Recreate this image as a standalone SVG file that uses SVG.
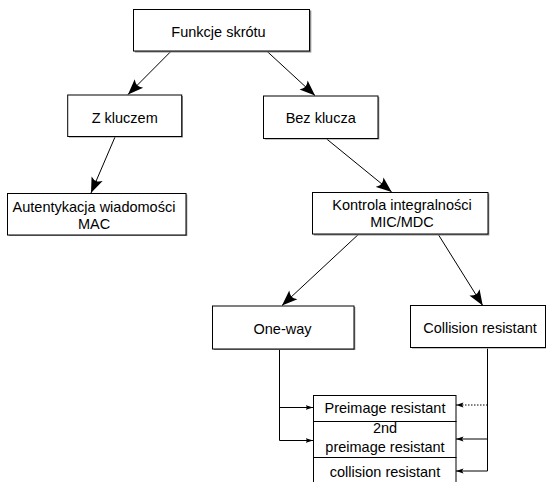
<svg xmlns="http://www.w3.org/2000/svg" width="546" height="482" viewBox="0 0 546 482">
<defs>
<style>
.box{fill:#fff;stroke:#000;stroke-width:1}
.sh{fill:#8a8a8a}
.t{font-family:"Liberation Sans",Arial,sans-serif;font-size:14.5px;fill:#000;text-anchor:middle}
.c{fill:none;stroke:#000;stroke-width:1}
.big{marker-end:url(#ab)}
.sm{marker-end:url(#as)}
</style>
<marker id="ab" markerUnits="userSpaceOnUse" markerWidth="17" markerHeight="13" refX="16" refY="6.5" orient="auto" viewBox="0 0 17 13">
<path d="M16,6.5 L0.5,0.5 Q3,4 3,6.5 Q3,9 0.5,12.5 Z" fill="#000"/>
</marker>
<marker id="as" markerUnits="userSpaceOnUse" markerWidth="8" markerHeight="6" refX="7.5" refY="3" orient="auto" viewBox="0 0 8 6">
<path d="M7.5,3 L0,0.5 L1.5,3 L0,5.5 Z" fill="#000"/>
</marker>
</defs>

<g id="connectors">
<line class="c big" x1="171.3" y1="51" x2="128" y2="94.5"/>
<line class="c big" x1="266.7" y1="51" x2="315" y2="95.5"/>
<line class="c big" x1="115" y1="137" x2="91" y2="193"/>
<line class="c big" x1="326.7" y1="139" x2="391.7" y2="192"/>
<line class="c big" x1="358.3" y1="234.5" x2="282" y2="305.5"/>
<line class="c big" x1="438.3" y1="234.5" x2="482.7" y2="305.5"/>
<path class="c" d="M279.5,349.5 V440.5"/>
<line class="c sm" x1="279.5" y1="407.5" x2="313" y2="407.5"/>
<line class="c sm" x1="279.5" y1="440.5" x2="313" y2="440.5"/>
<path class="c" d="M487.5,348.5 V471"/>
<line class="c sm" x1="487.5" y1="405" x2="456" y2="405" stroke-dasharray="1.5,1.5"/>
<line class="c sm" x1="487.5" y1="439" x2="456" y2="439"/>
<line class="c sm" x1="487.5" y1="471" x2="456" y2="471"/>
</g>

<g id="n-funkcje">
<rect class="sh" x="134.8" y="10.5" width="176.5" height="42"/>
<rect class="box" x="133.5" y="9.5" width="176" height="41.5"/>
<text class="t" x="218.5" y="36.5">Funkcje skrótu</text>
</g>

<g id="n-zkluczem">
<rect class="sh" x="69" y="96" width="114" height="41.5"/>
<rect class="box" x="67.7" y="95" width="114" height="41.5"/>
<text class="t" x="124.7" y="123">Z kluczem</text>
</g>

<g id="n-bezklucza">
<rect class="sh" x="264.8" y="97" width="114.5" height="42.5"/>
<rect class="box" x="263.5" y="96" width="114.5" height="42.5"/>
<text class="t" x="320.7" y="123.3">Bez klucza</text>
</g>

<g id="n-autentykacja">
<rect class="sh" x="8.8" y="194.5" width="178.5" height="41.5"/>
<rect class="box" x="7.5" y="193.5" width="178.5" height="41.5"/>
<text class="t" x="94" y="212">Autentykacja wiadomości</text>
<text class="t" x="94" y="229.3">MAC</text>
</g>

<g id="n-kontrola">
<rect class="sh" x="313.8" y="193.5" width="175.5" height="42"/>
<rect class="box" x="312.5" y="192.5" width="175.5" height="41.5"/>
<text class="t" x="402" y="210">Kontrola integralności</text>
<text class="t" x="402" y="226.7">MIC/MDC</text>
</g>

<g id="n-oneway">
<rect class="sh" x="213.8" y="307" width="141.5" height="43"/>
<rect class="box" x="212.5" y="306" width="141.5" height="43"/>
<text class="t" x="282.5" y="333.5">One-way</text>
</g>

<g id="n-collision">
<rect class="sh" x="412" y="306.5" width="136" height="42"/>
<rect class="box" x="410.5" y="305.5" width="135" height="42"/>
<text class="t" x="480" y="333">Collision resistant</text>
</g>

<g id="n-stack">
<rect class="box" x="313.5" y="395.5" width="142.5" height="26"/>
<text class="t" x="385" y="412.7">Preimage resistant</text>
<rect class="box" x="313.5" y="421.5" width="142.5" height="36"/>
<text class="t" x="385" y="433.3">2nd</text>
<text class="t" x="385" y="452.3">preimage resistant</text>
<rect class="box" x="313.5" y="457.5" width="142.5" height="30"/>
<text class="t" x="385" y="476.7">collision resistant</text>
</g>
</svg>
